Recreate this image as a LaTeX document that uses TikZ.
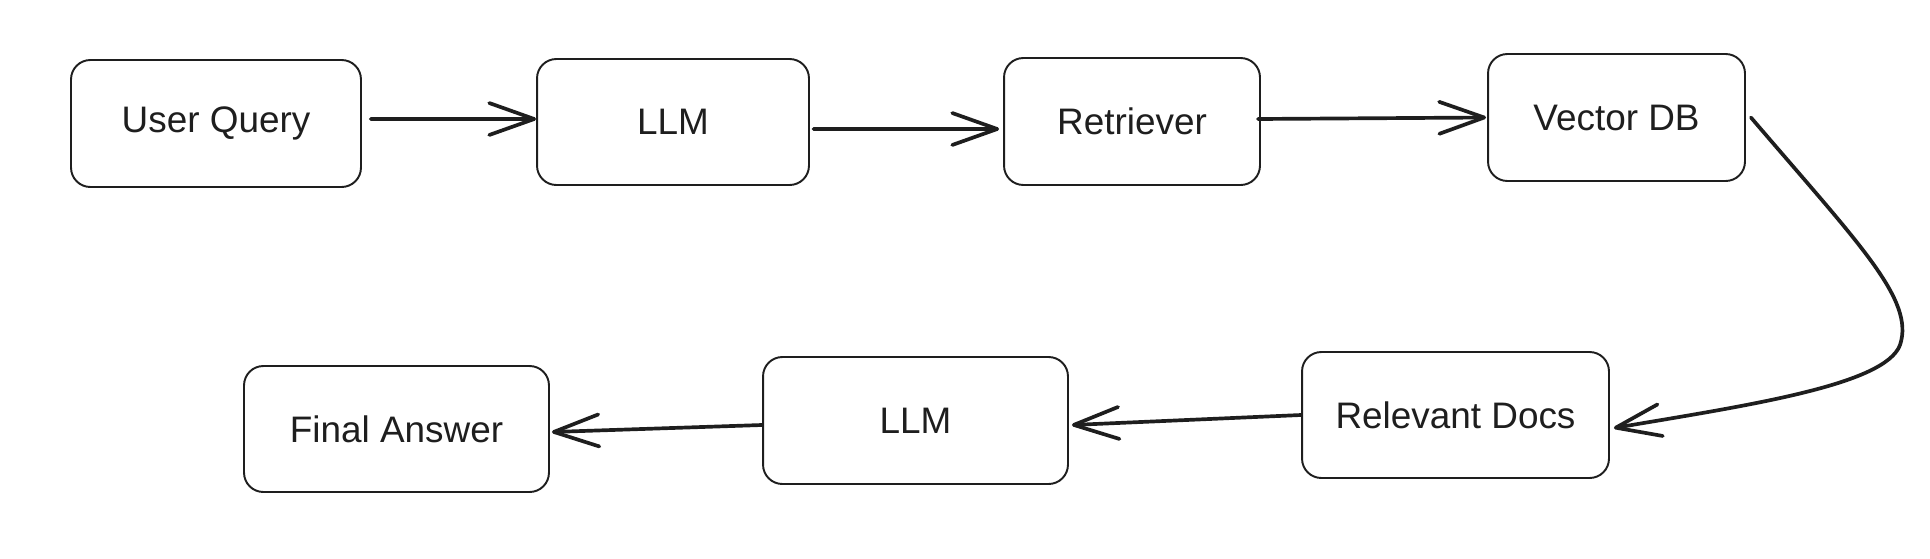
\documentclass[tikz,border=0pt]{standalone}
\usepackage{fontspec}
\setmainfont{Liberation Sans}
\usepackage{xcolor}
\usepackage{tikz}
\usetikzlibrary{positioning, arrows.meta}
\definecolor{inkdark}{HTML}{1E1E1E}

\begin{document}
\begin{tikzpicture}[x=0.02cm, y=-0.02cm,
    stepbox/.style={draw=inkdark, line width=1.1pt, rounded corners=11pt,
      text=inkdark, font=\fontsize{21}{25}\selectfont},
    flow/.style={draw=inkdark, line width=2.1pt, line cap=round,
      -{Straight Barb[round, length=0.9cm, width=0.64cm]}}]
  \useasboundingbox (0,0) rectangle (1930,558);

  % top row
  \node[stepbox, minimum width=5.8cm, minimum height=2.54cm] (query) at (216,123.5) {User Query};
  \node[stepbox, minimum width=5.44cm, minimum height=2.52cm] (llmA) at (673,122) {LLM};
  \node[stepbox, minimum width=5.12cm, minimum height=2.54cm] (retriever) at (1132,121.5) {Retriever};
  \node[stepbox, minimum width=5.14cm, minimum height=2.54cm] (vectordb) at (1616.5,117.5) {Vector DB};

  % bottom row
  \node[stepbox, minimum width=6.14cm, minimum height=2.52cm] (docs) at (1455.5,415) {Relevant Docs};
  \node[stepbox, minimum width=6.1cm, minimum height=2.54cm] (llmB) at (915.5,420.5) {LLM};
  \node[stepbox, minimum width=6.1cm, minimum height=2.52cm] (answer) at (396.5,429) {Final Answer};

  \coordinate (bend) at (1900,345);

  \draw[flow, shorten <=5pt] ([yshift=0.09cm]query.east) -- ([yshift=0.06cm]llmA.west);
  \draw[flow, shorten <=2pt] ([yshift=-0.14cm]llmA.east) -- ([xshift=-0.08cm, yshift=-0.15cm]retriever.west);
  \draw[flow] ([xshift=-0.06cm, yshift=0.05cm]retriever.east) -- ([xshift=-0.02cm]vectordb.west);
  \draw[flow] ([xshift=0.1cm]vectordb.east) .. controls (1860,245) and (1915,300) .. (bend)
    .. controls (1885,385) and (1750,405) .. ([xshift=0.08cm, yshift=-0.26cm]docs.east);
  \draw[flow] (docs.west) -- ([xshift=0.06cm, yshift=-0.09cm]llmB.east);
  \draw[flow] ([yshift=-0.09cm]llmB.west) -- ([xshift=0.04cm, yshift=-0.06cm]answer.east);
\end{tikzpicture}
\end{document}
